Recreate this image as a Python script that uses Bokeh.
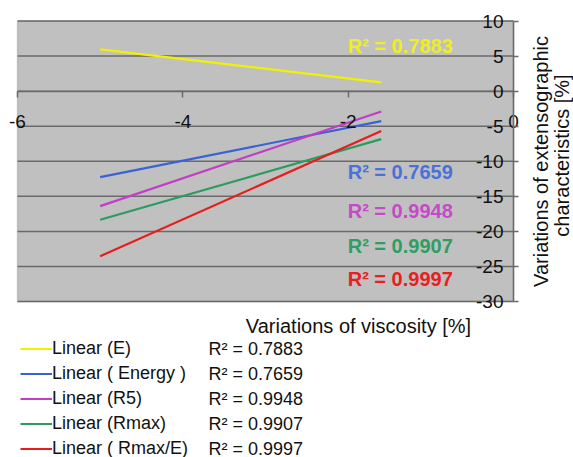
import math
from bokeh.plotting import figure
from bokeh.models import (Range1d, LinearAxis, FixedTicker, Label, Legend,
                          LegendItem, ColumnDataSource, BoxAnnotation,
                          CustomJSTickFormatter)
from bokeh.embed import file_html
from bokeh.resources import INLINE
from bokeh.core.properties import value

# ---------------- data ----------------
series_names = ["Linear (E)", "Linear ( Energy )", "Linear (R5)",
                "Linear (Rmax)", "Linear ( Rmax/E)"]
r2_values = ["0.7883", "0.7659", "0.9948", "0.9907", "0.9997"]
x_fit = [-5.0, -1.6]
fit_E = [5.95, 1.24]
fit_energy = [-12.27, -4.28]
fit_r5 = [-16.4, -2.9]
fit_rmax = [-18.35, -6.85]
fit_rmax_e = [-23.54, -5.7]
r2_label_x = [-1.37, -1.37, -1.37, -1.37, -1.37]
r2_label_y = [6.5, -11.5, -17.1, -22.1, -26.8]
x_ticks = [-6, -4, -2, 0]
y_ticks = [10, 5, 0, -5, -10, -15, -20, -25, -30]
x_min, x_max = -6, 0
y_min, y_max = -30, 10
x_title = "Variations of viscosity [%]"
y_title_lines = ["Variations of extensographic", "characteristics [%]"]

line_colors = ["#f2f200", "#3a62d2", "#c23ec4", "#2a9c60", "#e81c1c"]
text_colors = ["#eeee22", "#4a72d6", "#c64ac8", "#2e9e62", "#e82020"]
FONT = "Liberation Sans"

# ---------------- layout (pixels) ----------------
W, H = 573, 457
PL, PR, PT, PB = 17, 513, 20.5, 301      # chart area in canvas pixels
kx = (PR - PL) / (x_max - x_min)
ky = (PB - PT) / (y_max - y_min)
xr = Range1d(x_min - PL / kx, x_max + (W - PR) / kx)
yr = Range1d(y_min - (H - PB) / ky, y_max + PT / ky)

p = figure(width=W, height=H, output_backend="svg", toolbar_location=None,
           x_range=xr, y_range=yr, x_axis_location=None, y_axis_location=None,
           min_border=0)
p.min_border_left = p.min_border_right = p.min_border_top = p.min_border_bottom = 0
p.background_fill_color = "white"
p.border_fill_color = "white"
p.outline_line_color = None
for g in p.grid:
    g.visible = False

p.add_layout(BoxAnnotation(left=x_min, right=x_max, bottom=y_min, top=y_max,
                           fill_color="#c0c0c0", fill_alpha=1,
                           line_color="#7a7a7a", line_width=1.5,
                           level="underlay"))
# horizontal grid lines
p.segment(x0=[x_min] * len(y_ticks), x1=[x_max] * len(y_ticks),
          y0=y_ticks, y1=y_ticks, line_color="#6a6a6a", line_width=1.5)

fmt = CustomJSTickFormatter(code="return tick.toString();")
xaxis = LinearAxis(fixed_location=0, bounds=(x_min, x_max),
                   ticker=FixedTicker(ticks=x_ticks), formatter=fmt,
                   major_tick_out=6, major_tick_in=0, minor_tick_out=0,
                   minor_tick_in=0, axis_line_color="#6a6a6a",
                   axis_line_width=1.5, major_tick_line_color="#6a6a6a",
                   major_tick_line_width=1.5, major_label_standoff=18,
                   major_label_text_font=FONT, major_label_text_font_size="19px",
                   major_label_text_color="#111111")
p.add_layout(xaxis, "below")

yaxis = LinearAxis(fixed_location=0, bounds=(y_min, y_max),
                   ticker=FixedTicker(ticks=y_ticks), formatter=fmt,
                   major_tick_out=0, major_tick_in=5, minor_tick_out=0,
                   minor_tick_in=0, axis_line_color="#6a6a6a",
                   axis_line_width=1.5, major_tick_line_color="#6a6a6a",
                   major_tick_line_width=1.5, major_label_standoff=10,
                   major_label_text_font=FONT, major_label_text_font_size="19px",
                   major_label_text_color="#111111")
p.add_layout(yaxis, "left")

series = [fit_E, fit_energy, fit_r5, fit_rmax, fit_rmax_e]
renderers = []
for ys, c in zip(series, line_colors):
    renderers.append(p.line(x_fit, ys, line_color=c, line_width=2.2))

src = ColumnDataSource(dict(x=r2_label_x, y=r2_label_y,
                            t=["R\u00b2 = " + v for v in r2_values],
                            c=text_colors))
p.text(x="x", y="y", text="t", text_color="c", source=src,
       text_font=value(FONT), text_font_style="bold", text_font_size="20px",
       text_align="center", text_baseline="middle")

# axis titles (screen units measured from bottom-left)
p.add_layout(Label(x=358, y=H - 325, x_units="screen", y_units="screen",
                   text=x_title, text_font=FONT, text_font_size="20px",
                   text_align="center", text_baseline="middle",
                   text_color="#111111"))
for ln, xx, yy in zip(y_title_lines, [540, 561], [161, 155]):
    p.add_layout(Label(x=xx, y=H - yy, x_units="screen", y_units="screen",
                       text=ln, angle=math.pi / 2, text_font=FONT,
                       text_font_size="20px", text_align="center",
                       text_baseline="middle", text_color="#111111"))

# legend
row_h = 25
first_row = 348
legend_top = first_row - row_h / 2
legend = Legend(items=[LegendItem(label=n, renderers=[r])
                       for n, r in zip(series_names, renderers)],
                location=(20, H - legend_top - 5 * row_h), orientation="vertical",
                glyph_width=32, glyph_height=row_h, label_height=row_h,
                spacing=0, padding=0, margin=0, label_standoff=0,
                border_line_color=None, background_fill_alpha=0,
                label_text_font=FONT, label_text_font_size="18px",
                label_text_color="#111111")
p.add_layout(legend, "center")

for i, v in enumerate(r2_values):
    yc = first_row + i * row_h
    p.add_layout(Label(x=208, y=H - yc, x_units="screen", y_units="screen",
                       text="R\u00b2 = " + v, text_font=FONT,
                       text_font_size="18px", text_align="left",
                       text_baseline="middle", text_color="#111111"))

open("out.html", "w").write(file_html(p, INLINE))
